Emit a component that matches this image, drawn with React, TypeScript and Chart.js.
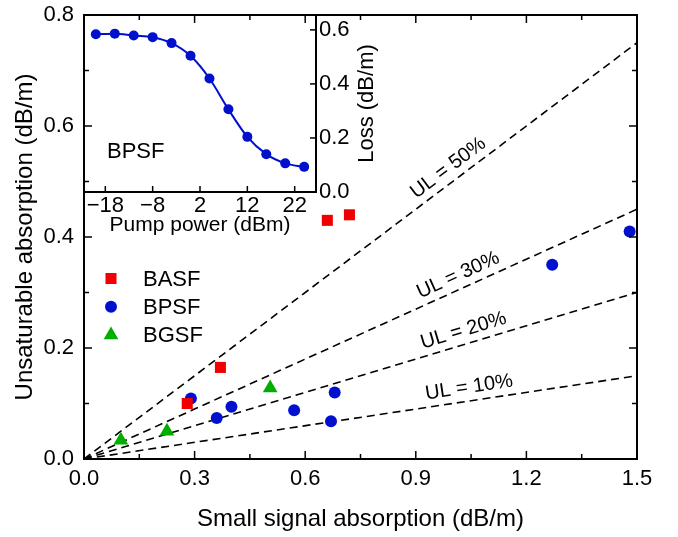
import React, { useEffect, useRef } from 'react';
import { Chart, registerables } from 'chart.js';

Chart.register(...registerables);

const FONT = "'Liberation Sans', Arial, Helvetica, sans-serif";
const RED = '#F00000';
const BLUE = '#0010CC';
const GREEN = '#00AE00';

// ---- main chart data ----
const seriesNames = ['BASF', 'BPSF', 'BGSF'];
const basfX = [0.28, 0.37, 0.66, 0.72];
const basfY = [0.1, 0.165, 0.43, 0.44];
const bpsfX = [0.29, 0.36, 0.4, 0.57, 0.67, 0.68, 1.27, 1.48];
const bpsfY = [0.109, 0.074, 0.094, 0.088, 0.068, 0.12, 0.35, 0.41];
const bgsfX = [0.1, 0.225, 0.505];
const bgsfY = [0.034, 0.05, 0.128];

const ulLabels = ['UL = 50%', 'UL = 30%', 'UL = 20%', 'UL = 10%'];
const ulLineX = [0, 1.5];
const ulLineY = [
  [0, 0.75],
  [0, 0.45],
  [0, 0.3],
  [0, 0.15],
];

const xTicks = [0, 0.3, 0.6, 0.9, 1.2, 1.5];
const xMinorTicks = [0.15, 0.45, 0.75, 1.05, 1.35];
const yTicks = [0, 0.2, 0.4, 0.6, 0.8];
const yMinorTicks = [0.1, 0.3, 0.5, 0.7];

// ---- inset data ----
const pumpPower = [-20, -16, -12, -8, -4, 0, 4, 8, 12, 16, 20, 24];
const lossBPSF = [0.584, 0.586, 0.579, 0.573, 0.551, 0.504, 0.42, 0.306, 0.204, 0.14, 0.106, 0.093];
const pumpTicks = [-18, -8, 2, 12, 22];
const lossTicks = [0, 0.2, 0.4, 0.6];

// label placement along each UL line (x in data units), offset above the line
const ulLabelAt = [1.01, 1.03, 1.04, 1.05];

function drawMarker(ctx: CanvasRenderingContext2D, style: string, x: number, y: number, r: number, color: string) {
  ctx.fillStyle = color;
  ctx.beginPath();
  if (style === 'rect') {
    const s = Math.SQRT1_2 * r;
    ctx.rect(x - s, y - s, 2 * s, 2 * s);
  } else if (style === 'triangle') {
    for (let k = 0; k < 3; k++) {
      const a = (k * 2 * Math.PI) / 3;
      const px = x + Math.sin(a) * r;
      const py = y - Math.cos(a) * r;
      if (k === 0) ctx.moveTo(px, py);
      else ctx.lineTo(px, py);
    }
    ctx.closePath();
  } else {
    ctx.arc(x, y, r, 0, Math.PI * 2);
  }
  ctx.fill();
}

const mainDecor = {
  id: 'mainDecor',
  afterDraw(chart: any) {
    const { ctx, chartArea: a, scales } = chart;
    const x = scales.x;
    const y = scales.y;
    ctx.save();
    ctx.strokeStyle = '#000';
    ctx.lineWidth = 2;
    ctx.strokeRect(a.left, a.top, a.right - a.left, a.bottom - a.top);
    ctx.lineWidth = 1.5;
    const seg = (x1: number, y1: number, x2: number, y2: number) => {
      ctx.beginPath();
      ctx.moveTo(x1, y1);
      ctx.lineTo(x2, y2);
      ctx.stroke();
    };
    const xt = (vals: number[], len: number) =>
      vals.forEach((v) => {
        const p = x.getPixelForValue(v);
        seg(p, a.bottom, p, a.bottom - len);
        seg(p, a.top, p, a.top + len);
      });
    const yt = (vals: number[], len: number) =>
      vals.forEach((v) => {
        const p = y.getPixelForValue(v);
        seg(a.left, p, a.left + len, p);
        seg(a.right, p, a.right - len, p);
      });
    xt(xTicks, 8);
    xt(xMinorTicks, 5);
    yt(yTicks, 8);
    yt(yMinorTicks, 5);

    // UL labels
    ctx.fillStyle = '#000';
    ctx.font = `20px ${FONT}`;
    ctx.textAlign = 'center';
    ctx.textBaseline = 'middle';
    ulLineY.forEach((ys, i) => {
      const x0 = x.getPixelForValue(ulLineX[0]);
      const y0 = y.getPixelForValue(ys[0]);
      const x1 = x.getPixelForValue(ulLineX[1]);
      const y1 = y.getPixelForValue(ys[1]);
      const ang = Math.atan2(y1 - y0, x1 - x0);
      const t = (ulLabelAt[i] - ulLineX[0]) / (ulLineX[1] - ulLineX[0]);
      const fx = x0 + (x1 - x0) * t;
      const fy = y0 + (y1 - y0) * t;
      const off = 13.5;
      const cx = fx + Math.sin(ang) * off;
      const cy = fy - Math.cos(ang) * off;
      ctx.save();
      ctx.translate(cx, cy);
      ctx.rotate(ang);
      ctx.fillText(ulLabels[i], 0, 0);
      ctx.restore();
    });

    // legend
    ctx.textAlign = 'left';
    ctx.font = `22px ${FONT}`;
    chart.data.datasets.slice(0, 3).forEach((ds: any, i: number) => {
      const my = a.top + 263.5 + i * 28.3;
      drawMarker(ctx, ds.pointStyle, a.left + 27, my, ds.pointRadius, ds.backgroundColor);
      ctx.fillStyle = '#000';
      ctx.fillText(ds.label, a.left + 59, my + 1);
    });
    ctx.restore();
  },
};

const insetDecor = {
  id: 'insetDecor',
  beforeDraw(chart: any) {
    const { ctx, chartArea: a } = chart;
    ctx.save();
    ctx.fillStyle = '#fff';
    ctx.fillRect(a.left, a.top, a.right - a.left, a.bottom - a.top);
    ctx.restore();
  },
  afterDraw(chart: any) {
    const { ctx, chartArea: a, scales } = chart;
    const x = scales.x;
    const y = scales.y;
    ctx.save();
    ctx.strokeStyle = '#000';
    ctx.lineWidth = 2;
    ctx.strokeRect(a.left, a.top, a.right - a.left, a.bottom - a.top);
    ctx.lineWidth = 1.5;
    pumpTicks.forEach((v) => {
      const p = x.getPixelForValue(v);
      ctx.beginPath();
      ctx.moveTo(p, a.bottom);
      ctx.lineTo(p, a.bottom - 6);
      ctx.stroke();
    });
    lossTicks.forEach((v) => {
      const p = y.getPixelForValue(v);
      ctx.beginPath();
      ctx.moveTo(a.right, p);
      ctx.lineTo(a.right - 6, p);
      ctx.stroke();
    });
    ctx.fillStyle = '#000';
    ctx.font = `22px ${FONT}`;
    ctx.textAlign = 'left';
    ctx.textBaseline = 'middle';
    ctx.fillText('BPSF', a.left + 23, a.top + 137);
    ctx.save();
    ctx.translate(a.right + 51, (a.top + a.bottom) / 2);
    ctx.rotate(-Math.PI / 2);
    ctx.textAlign = 'center';
    ctx.fillText('Loss (dB/m)', 0, 0);
    ctx.restore();
    ctx.restore();
  },
};

const fmtPump = (v: number) => (v < 0 ? '\u2212' + Math.abs(v) : String(v));

const zeroPad = (s: any) => {
  s.paddingTop = 0;
  s.paddingBottom = 0;
  s.paddingLeft = 0;
  s.paddingRight = 0;
};

export default function App() {
  const mainRef = useRef<HTMLCanvasElement>(null);
  const insetRef = useRef<HTMLCanvasElement>(null);

  useEffect(() => {
    Chart.defaults.font.family = FONT;
    Chart.defaults.color = '#000';

    const inset = new Chart(insetRef.current as HTMLCanvasElement, {
      type: 'line',
      data: {
        datasets: [
          {
            label: 'BPSF',
            data: pumpPower.map((p, i) => ({ x: p, y: lossBPSF[i] })),
            borderColor: BLUE,
            backgroundColor: BLUE,
            borderWidth: 2,
            pointRadius: 5,
            pointBorderWidth: 0,
            cubicInterpolationMode: 'monotone',
          },
        ],
      },
      options: {
        responsive: false,
        animation: false,
        layout: { padding: { left: 20, top: 15, right: 0, bottom: 0 } },
        plugins: { legend: { display: false }, tooltip: { enabled: false } },
        scales: {
          x: {
            type: 'linear',
            position: 'bottom',
            min: -22.5,
            max: 26.5,
            afterBuildTicks: (s: any) => {
              s.ticks = pumpTicks.map((v) => ({ value: v }));
            },
            afterFit: (s: any) => {
              s.height = 58;
              zeroPad(s);
            },
            grid: { display: false, drawTicks: false },
            border: { display: false },
            ticks: {
              color: '#000',
              font: { size: 22, family: FONT },
              padding: 1,
              maxRotation: 0,
              autoSkip: false,
              callback: (v: any) => fmtPump(Number(v)),
            },
            title: {
              display: true,
              text: 'Pump power (dBm)',
              color: '#000',
              font: { size: 21, family: FONT },
              padding: { top: 0, bottom: 12 },
            },
          },
          y: {
            type: 'linear',
            position: 'right',
            min: 0,
            max: 0.655,
            afterBuildTicks: (s: any) => {
              s.ticks = lossTicks.map((v) => ({ value: v }));
            },
            afterFit: (s: any) => {
              s.width = 68;
              zeroPad(s);
            },
            grid: { display: false, drawTicks: false },
            border: { display: false },
            ticks: {
              color: '#000',
              font: { size: 22, family: FONT },
              padding: 3,
              autoSkip: false,
              callback: (v: any) => Number(v).toFixed(1),
            },
          },
        },
      } as any,
      plugins: [insetDecor],
    });

    const scatterSets = [
      { label: seriesNames[0], xs: basfX, ys: basfY, color: RED, style: 'rect', r: 7.8 },
      { label: seriesNames[1], xs: bpsfX, ys: bpsfY, color: BLUE, style: 'circle', r: 6 },
      { label: seriesNames[2], xs: bgsfX, ys: bgsfY, color: GREEN, style: 'triangle', r: 8.5 },
    ].map((s) => ({
      type: 'scatter',
      label: s.label,
      data: s.xs.map((v, i) => ({ x: v, y: s.ys[i] })),
      backgroundColor: s.color,
      borderColor: s.color,
      borderWidth: 0,
      pointStyle: s.style,
      pointRadius: s.r,
      pointHoverRadius: s.r,
    }));

    const lineSets = ulLineY.map((ys, i) => ({
      type: 'line',
      label: ulLabels[i],
      data: ulLineX.map((v, j) => ({ x: v, y: ys[j] })),
      borderColor: '#000',
      borderWidth: 1.6,
      borderDash: [8, 5],
      pointRadius: 0,
      fill: false,
      showLine: true,
    }));

    const main = new Chart(mainRef.current as HTMLCanvasElement, {
      type: 'scatter',
      data: { datasets: [...scatterSets, ...lineSets] as any },
      options: {
        responsive: false,
        animation: false,
        layout: { padding: { left: 0, top: 15, right: 41, bottom: 0 } },
        plugins: { legend: { display: false }, tooltip: { enabled: false } },
        scales: {
          x: {
            type: 'linear',
            min: 0,
            max: 1.5,
            afterBuildTicks: (s: any) => {
              s.ticks = xTicks.map((v) => ({ value: v }));
            },
            afterFit: (s: any) => {
              s.height = 78;
              zeroPad(s);
            },
            grid: { display: false, drawTicks: false },
            border: { display: false },
            ticks: {
              color: '#000',
              font: { size: 22, family: FONT },
              padding: 7,
              maxRotation: 0,
              autoSkip: false,
              callback: (v: any) => Number(v).toFixed(1),
            },
            title: {
              display: true,
              text: 'Small signal absorption (dB/m)',
              color: '#000',
              font: { size: 24, family: FONT },
              padding: { top: 0, bottom: 3.5 },
            },
          },
          y: {
            type: 'linear',
            min: 0,
            max: 0.8,
            afterBuildTicks: (s: any) => {
              s.ticks = yTicks.map((v) => ({ value: v }));
            },
            afterFit: (s: any) => {
              s.width = 84;
              zeroPad(s);
            },
            grid: { display: false, drawTicks: false },
            border: { display: false },
            ticks: {
              color: '#000',
              font: { size: 22, family: FONT },
              padding: 10,
              autoSkip: false,
              callback: (v: any) => Number(v).toFixed(1),
            },
            title: {
              display: true,
              text: 'Unsaturable absorption (dB/m)',
              color: '#000',
              font: { size: 24, family: FONT },
              padding: { top: 10.5, bottom: 0 },
            },
          },
        },
      } as any,
      plugins: [mainDecor],
    });

    return () => {
      main.destroy();
      inset.destroy();
    };
  }, []);

  return (
    <div style={{ position: 'fixed', left: 0, top: 0, width: 678, height: 537, background: '#fff' }}>
      <canvas
        ref={insetRef}
        width={320}
        height={250}
        style={{ position: 'absolute', left: 64, top: 0, zIndex: 1 }}
      />
      <canvas
        ref={mainRef}
        width={678}
        height={537}
        style={{ position: 'absolute', left: 0, top: 0, zIndex: 2 }}
      />
    </div>
  );
}
